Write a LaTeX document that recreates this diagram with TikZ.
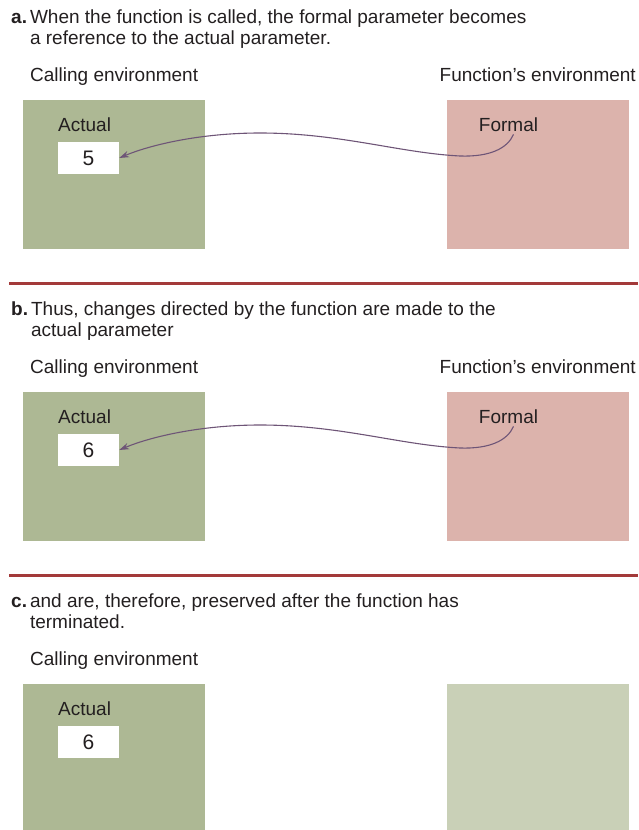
\documentclass[tikz,border=0pt]{standalone}
\usepackage{fontspec}
\setmainfont{Liberation Sans}
\usetikzlibrary{arrows.meta}
\definecolor{cTXT}{HTML}{231F20}
\definecolor{cCALL}{HTML}{ADB894}
\definecolor{cFUNC}{HTML}{DCB3AC}
\definecolor{cDONE}{HTML}{C9D0B7}
\definecolor{cRULE}{HTML}{A33A3A}
\definecolor{cREF}{HTML}{6E5577}

\begin{document}
\begin{tikzpicture}[x=1pt, y=-1pt, >={Stealth[length=10pt,width=6.5pt]}, text=cTXT,
  font=\fontsize{19}{21}\selectfont,
  envbox/.style={minimum width=182pt, minimum height=149pt, inner sep=0pt},
  valbox/.style={fill=white, minimum width=61pt, minimum height=32pt, inner sep=0pt,
    font=\fontsize{21}{21}\selectfont},
  lbl/.style={anchor=base west, inner sep=0pt}]
\useasboundingbox (0,0) rectangle (638,830);
\foreach \p/\dy/\v/\lone/\ltwo in {a/0/5/{When the function is called, the formal parameter becomes}/{a reference to the actual parameter.},
    b/292/6/{Thus, changes directed by the function are made to the}/{actual parameter},
    c/584/6/{and are, therefore, preserved after the function has}/{terminated.}} {
  \node[lbl, align=left] (cap\p) at (11,44+\dy) {\textbf{\p.}\hspace{3pt}\lone\\\phantom{\textbf{\p.}}\hspace{3pt}\ltwo};
  \node[lbl] (cenv\p) at (30,81+\dy) {Calling environment};
  \node[envbox, fill=cCALL] (call\p) at (114,174.5+\dy) {};
  \node[lbl] (act\p) at (58,131+\dy) {Actual};
  \node[valbox] (val\p) at (88.5,158+\dy) {\v};
}
\foreach \p/\dy in {a/0, b/292} {
  \node[anchor=base east, inner sep=0pt] (fenv\p) at (636,81+\dy) {Function’s environment};
  \node[envbox, fill=cFUNC] (func\p) at (538,174.5+\dy) {};
  \node[anchor=base, inner sep=0pt] (form\p) at (508.5,131+\dy) {Formal};
  \draw[->, cREF, line width=1.1pt] ([xshift=5pt,yshift=-3pt]form\p.south)
    .. controls +(-6,14) and (490,157+\dy) .. (460,156+\dy)
    .. controls (400,153+\dy) and (340,133+\dy) .. (260,133+\dy)
    .. controls (200,133+\dy) and (150,145+\dy) .. (val\p.east);
}
\node[envbox, fill=cDONE, minimum height=146pt] (funcc) at (538,757) {};
\draw[cRULE, line width=3pt] (9,283) -- (638,283);
\draw[cRULE, line width=3pt] (9,575) -- (638,575);
\end{tikzpicture}
\end{document}
